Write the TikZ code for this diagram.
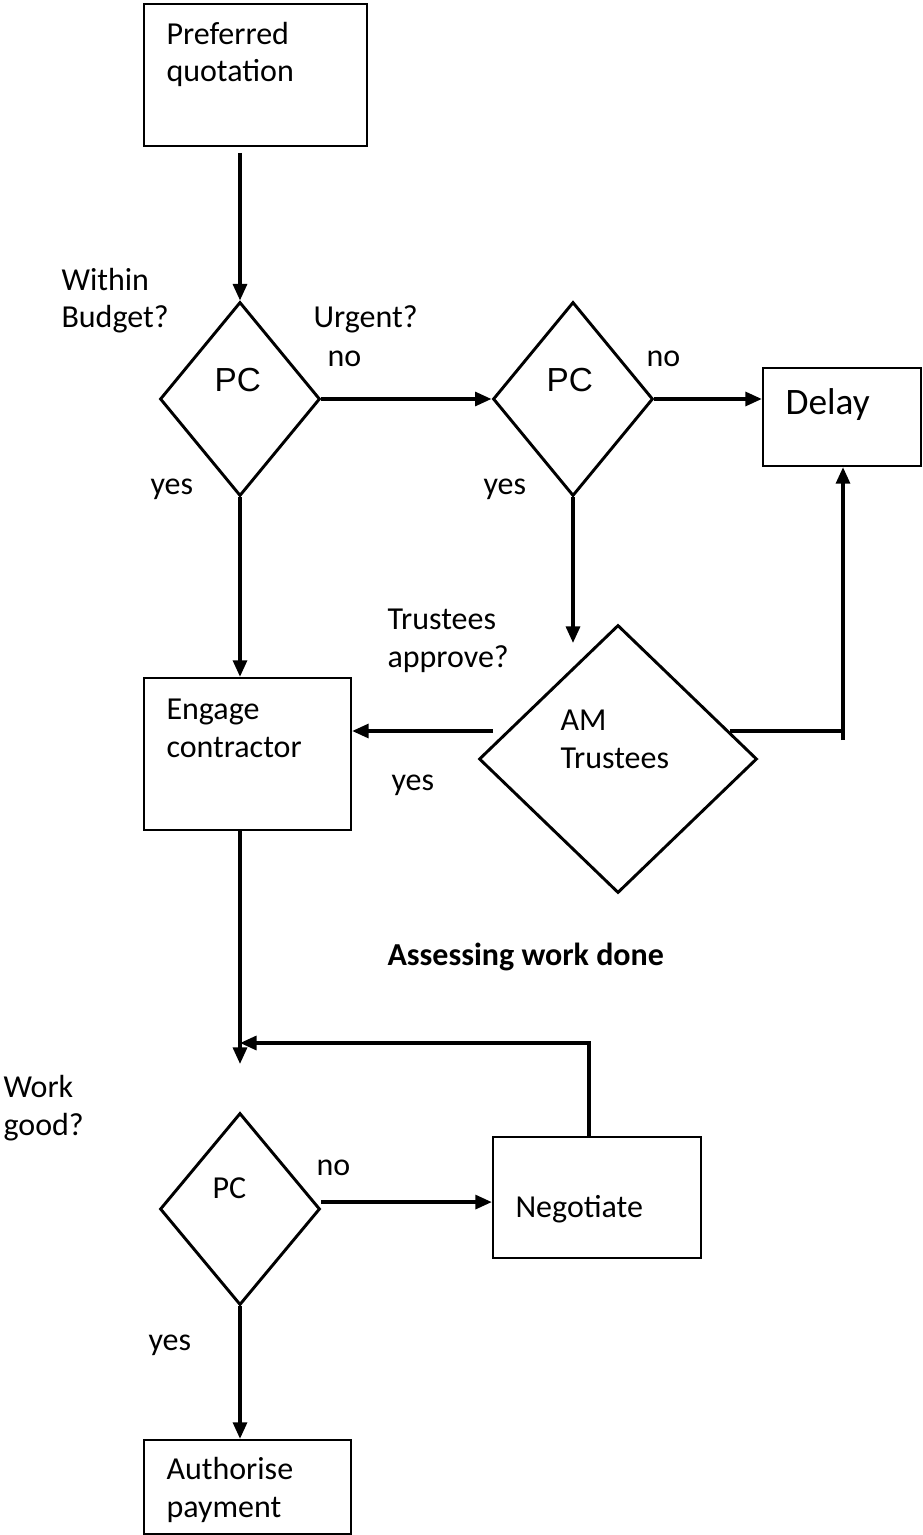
\documentclass[tikz,border=0pt]{standalone}
\usepackage{fontspec}
\setmainfont{Carlito}
\newfontfamily\arialfont{Liberation Sans}
\usetikzlibrary{
	arrows.meta,
	calc,
	positioning,
	shapes.geometric
}

\begin{document}
\begin{tikzpicture}[>={Triangle[length=6.2pt,width=5.2pt]}, x=0.375pt, y=-0.375pt,
		box/.style={draw, rectangle, line width=0.85pt, inner sep=0pt},
		decision/.style={draw, diamond, line width=1.1pt, inner sep=0pt, minimum width=60pt, minimum height=72.75pt},
		txt/.style={inner sep=0pt, anchor=base west, align=left, font=\fontsize{12}{13.9}\selectfont},
		bigpc/.style={txt, font=\arialfont\fontsize{12.5}{15}\selectfont},
		arr/.style={->, line width=1.3pt},
		link/.style={line width=1.3pt}]
		
		\useasboundingbox (0,0) rectangle (922,1535);
		
		% Boxes
		\node[box, minimum width=83.6pt, minimum height=53.25pt] (quote) at (255.5,75) {};
		\node[box, minimum width=77.6pt, minimum height=57pt] (engage) at (247.5,754) {};
		\node[box, minimum width=59.25pt, minimum height=36.75pt] (delay) at (842,417) {};
		\node[box, minimum width=78pt, minimum height=45.4pt] (negotiate) at (597,1197.5) {};
		\node[box, minimum width=77.6pt, minimum height=35.25pt] (authorise) at (247.5,1487) {};
		
		% Decisions
		\node[decision] (pc1) at (240,399) {};
		\node[decision] (pc2) at (573,399) {};
		\node[decision, minimum width=104.25pt, minimum height=100.5pt] (am) at (618,759) {};
		\node[decision, minimum height=72pt] (pc3) at (240,1209) {};
		
		% Texts (multi-line ones sit on the last baseline)
		\node[txt] (quotetext) at (166,82) {Preferred\\quotation};
		\node[txt] (engagetext) at (166,757) {Engage\\contractor};
		\node[txt, font=\fontsize{14}{16}\selectfont] (delaytext) at (785,415) {Delay};
		\node[txt] (negotiatetext) at (515,1217) {Negotiate};
		\node[txt] (authorisetext) at (166,1517) {Authorise\\payment};
		\node[bigpc] (pc1text) at (214,392) {PC};
		\node[bigpc] (pc2text) at (546,392) {PC};
		\node[txt] (amtext) at (560,768) {AM\\Trustees};
		\node[txt] (pc3text) at (212,1198) {PC};
		
		% Labels
		\node[txt] (budget) at (61,328) {Within\\Budget?};
		\node[txt] (urgent) at (313,328) {Urgent?};
		\node[txt] (nourgent) at (327,367) {no};
		\node[txt] (nodelay) at (646,367) {no};
		\node[txt] (yesbudget) at (150,495) {yes};
		\node[txt] (yesurgent) at (483,495) {yes};
		\node[txt] (approve) at (387,667) {Trustees\\approve?};
		\node[txt] (yesapprove) at (391,790) {yes};
		\node[txt, font=\fontsize{12}{13.9}\selectfont\bfseries] (assess) at (387,965) {Assessing work done};
		\node[txt] (workgood) at (3,1135) {Work\\good?};
		\node[txt] (nowork) at (316,1175) {no};
		\node[txt] (yeswork) at (148,1350) {yes};
		
		% Free ends
		\coordinate (qout) at (240,153);
		\coordinate (amin) at (573,643);
		\coordinate (amout) at (493,731);
		\coordinate (delayin) at (843,740);
		\coordinate (pcin) at (240,1064);
		\coordinate (back) at (589,1043);
		
		% Arrows
		\draw[arr] (qout) -- (pc1.north);
		\draw[arr] (pc1.east) -- (pc2.west);
		\draw[arr] (pc2.east) -- (pc2.east -| delay.west);
		\draw[arr] (pc1.south) -- (pc1.south |- engage.north);
		\draw[arr] (pc2.south) -- (amin);
		\draw[arr] (amout) -- (amout -| engage.east);
		\draw[link] (am.14) -- (am.14 -| delayin);
		\draw[arr] (delayin) -- (delayin |- delay.south);
		\draw[arr] (engage.south -| pcin) -- (pcin);
		\draw[arr] ([yshift=2.6pt]pc3.east) -- ([yshift=2.6pt]pc3.east -| negotiate.west);
		\draw[arr] (negotiate.north -| back) -- (back) -- (back -| pcin);
		\draw[arr] (pc3.south) -- (pc3.south |- authorise.north);
		
	\end{tikzpicture}
\end{document}
